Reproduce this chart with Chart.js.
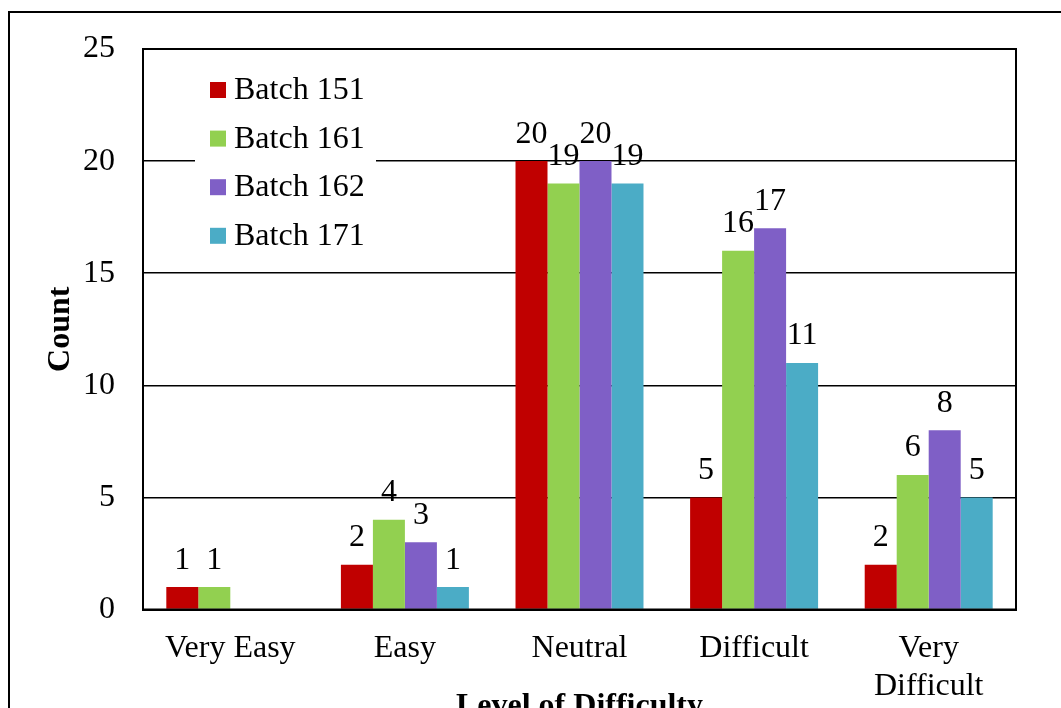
<!DOCTYPE html>
<html>
<head>
<meta charset="utf-8">
<script src="https://cdn.jsdelivr.net/npm/chart.js@4/dist/chart.umd.min.js"></script>
<style>
html,body{margin:0;padding:0;background:#fff;overflow:hidden;}
#wrap{position:relative;width:1061px;height:708px;}
</style>
</head>
<body>
<div id="wrap"><canvas id="c"></canvas></div>
<script>
const categories = ["Very Easy", "Easy", "Neutral", "Difficult", ["Very", "Difficult"]];
const seriesNames = ["Batch 151", "Batch 161", "Batch 162", "Batch 171"];
const batch151 = [1, 2, 20, 5, 2];
const batch161 = [1, 4, 19, 16, 6];
const batch162 = [0, 3, 20, 17, 8];
const batch171 = [0, 1, 19, 11, 5];
const yTicks = [0, 5, 10, 15, 20, 25];
const colors = ["#C00000", "#92D050", "#7F5FC6", "#4BACC6"];

const FONT = '"Liberation Serif", "Times New Roman", serif';
const FS = 32;
const seriesValues = [batch151, batch161, batch162, batch171];

const framePlugin = {
  id: 'frames',
  beforeDraw(chart) {
    const ctx = chart.ctx;
    ctx.save();
    ctx.strokeStyle = '#000';
    ctx.lineWidth = 2;
    ctx.beginPath();
    ctx.moveTo(9, 710);
    ctx.lineTo(9, 12);
    ctx.lineTo(1063, 12);
    ctx.stroke();
    ctx.restore();
  },
  afterDatasetsDraw(chart) {
    const ctx = chart.ctx;
    const a = chart.chartArea;
    ctx.save();
    ctx.strokeStyle = '#000';
    ctx.lineWidth = 2;
    ctx.strokeRect(a.left, a.top, a.right - a.left, a.bottom - a.top);
    // data labels
    ctx.fillStyle = '#000';
    ctx.font = FS + 'px ' + FONT;
    ctx.textAlign = 'center';
    ctx.textBaseline = 'alphabetic';
    chart.data.datasets.forEach((ds, i) => {
      const meta = chart.getDatasetMeta(i);
      meta.data.forEach((bar, j) => {
        const v = ds.data[j];
        if (v > 0) ctx.fillText(String(v), bar.x, bar.y - 18.5);
      });
    });
    // legend
    ctx.fillStyle = '#fff';
    ctx.fillRect(195, 62, 181, 196);
    ctx.textAlign = 'left';
    ctx.textBaseline = 'alphabetic';
    chart.data.datasets.forEach((ds, i) => {
      const cy = 90 + i * 48.6;
      ctx.fillStyle = ds.backgroundColor;
      ctx.fillRect(210, cy - 8, 16, 16);
      ctx.fillStyle = '#000';
      ctx.fillText(ds.label, 234, cy + 9);
    });
    ctx.restore();
  }
};

new Chart(document.getElementById('c'), {
  type: 'bar',
  data: {
    labels: categories,
    datasets: seriesNames.map((n, i) => ({
      label: n,
      data: seriesValues[i],
      backgroundColor: colors[i],
      borderWidth: 0,
      categoryPercentage: 0.733,
      barPercentage: 1.0
    }))
  },
  options: {
    responsive: true,
    maintainAspectRatio: false,
    animation: false,
    layout: { padding: { left: 0, top: 49, right: 45, bottom: 0 } },
    plugins: { legend: { display: false }, tooltip: { enabled: false } },
    scales: {
      x: {
        grid: { display: false, drawTicks: false },
        border: { display: true, color: '#000', width: 2 },
        ticks: { color: '#000', font: { family: FONT, size: FS, lineHeight: 1.16 }, padding: 21, maxRotation: 0, autoSkip: false },
        title: { display: true, text: 'Level of Difficulty', color: '#000', font: { family: FONT, size: FS, weight: 'bold', lineHeight: 1.2 }, padding: { top: 0, bottom: -18 } },
        afterFit(scale) { scale.height = 98.5; }
      },
      y: {
        min: 0, max: 25,
        afterBuildTicks(scale) { scale.ticks = yTicks.map(v => ({ value: v })); },
        grid: { display: true, color: '#000', lineWidth: 1.5, drawTicks: false },
        border: { display: true, color: '#000', width: 2 },
        ticks: { color: '#000', font: { family: FONT, size: FS }, padding: 28 },
        title: { display: true, text: 'Count', color: '#000', font: { family: FONT, size: FS, weight: 'bold', lineHeight: 1.2 }, padding: { top: 42, bottom: 0 } },
        afterFit(scale) { scale.width = 143; }
      }
    }
  },
  plugins: [framePlugin]
});
</script>
</body>
</html>
